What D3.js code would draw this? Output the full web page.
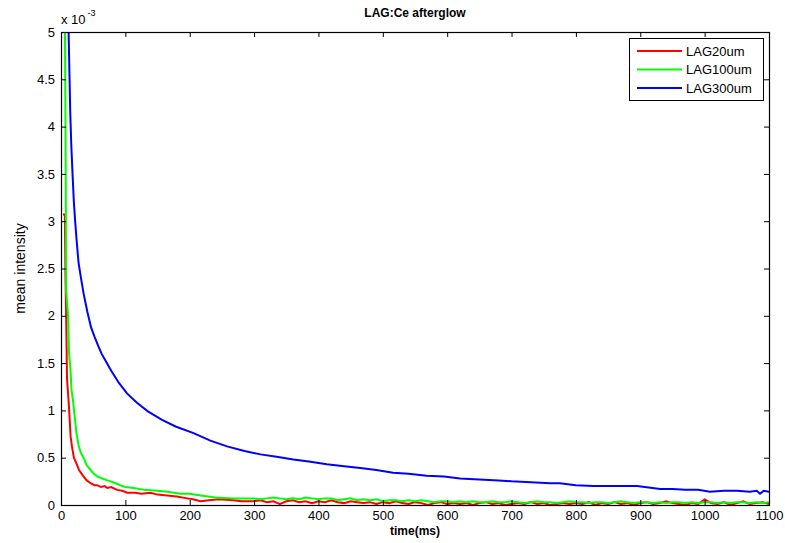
<!DOCTYPE html>
<html>
<head>
<meta charset="utf-8">
<script src="https://cdn.jsdelivr.net/npm/d3@7"></script>
<style>
  body { margin: 0; background: #fff; }
  svg { display: block; font-family: "Liberation Sans", Arial, sans-serif; }
</style>
</head>
<body>
<div id="root"></div>
<script>
// values in units of 1e-3, time in ms
const seriesNames = ["LAG20um", "LAG100um", "LAG300um"];
const seriesColors = ["#ff0000", "#00ff00", "#0000ff"];

const xTicks = [0, 100, 200, 300, 400, 500, 600, 700, 800, 900, 1000, 1100];
const yTicks = [0, 0.5, 1, 1.5, 2, 2.5, 3, 3.5, 4, 4.5, 5];

const lag20Head = [
  [3, 3.07], [6, 3.07], [7, 2.4], [8, 2.0], [9.4, 1.33], [12, 1.08], [15, 0.72],
  [17, 0.62], [20, 0.5], [24, 0.44], [28, 0.37], [34, 0.31], [40, 0.26], [46, 0.23],
  [52, 0.21], [56, 0.21], [62, 0.19], [68, 0.2], [72, 0.18], [78, 0.19], [87, 0.16],
  [95, 0.15], [103, 0.13], [115, 0.13], [125, 0.12], [139, 0.13], [150, 0.11],
  [165, 0.1], [180, 0.09], [196, 0.07], [205, 0.06], [217, 0.04], [230, 0.05],
  [245, 0.06], [268, 0.05], [280, 0.04], [290, 0.04]
];
const lag100Head = [
  [3, 6], [6, 5.2], [7, 4.0], [7.5, 3.2], [8, 2.27], [11, 2.0], [12.5, 1.6],
  [14.5, 1.46], [16.5, 1.2], [18.6, 1.11], [21, 0.95], [24, 0.76], [27.6, 0.62],
  [31, 0.55], [35, 0.5], [40, 0.42], [46, 0.37], [51, 0.33], [57, 0.3], [64, 0.28],
  [72, 0.26], [77, 0.25], [85, 0.23], [95, 0.2], [100, 0.19], [113, 0.18],
  [130, 0.16], [150, 0.15], [165, 0.14], [185, 0.12], [200, 0.12], [217, 0.1],
  [240, 0.08], [268, 0.07], [290, 0.07]
];

// tails sampled every 10 ms from 300 to 1100
const tailTimes = d3.range(300, 1101, 10);
const lag20Tail = [
  0.04, 0.05, 0.03, 0.04, 0.01, 0.04, 0.05, 0.03, 0.04, 0.02, 0.04, 0.03, 0.05, 0.03, 0.02, 0.04,
  0.03, 0.02, 0.03, 0.01, 0.03, 0.02, 0.04, 0.02, 0.01, 0.03, 0.02, 0.00, 0.02, 0.03, 0.01,
  0.02, 0.01, 0.02, 0.00, 0.02, 0.03, 0.01, 0.02, 0.00, 0.01, 0.02, 0.01, 0.03, 0.01, 0.02, 0.00, 0.01, 0.02, 0.01, 0.02,
  0.01, 0.03, 0.00, 0.02, 0.01, 0.03, 0.01, 0.02, 0.00, 0.02, 0.03, 0.01, 0.02, 0.04, 0.02,
  0.01, 0.00, 0.02, 0.01, 0.06, 0.02, 0.01, 0.03, 0.00, 0.02, 0.04, 0.01, 0.02, 0.03, 0.01
];
const lag100Tail = [
  0.07, 0.06, 0.07, 0.08, 0.07, 0.06, 0.07, 0.06, 0.08, 0.07, 0.06, 0.07, 0.07, 0.05, 0.06, 0.07,
  0.05, 0.06, 0.05, 0.06, 0.04, 0.05, 0.05, 0.04, 0.05, 0.04, 0.05, 0.04, 0.03, 0.04, 0.04,
  0.03, 0.04, 0.03, 0.04, 0.03, 0.03, 0.04, 0.03, 0.03, 0.04, 0.03, 0.02, 0.03, 0.04, 0.03, 0.03, 0.02, 0.03, 0.04, 0.03,
  0.03, 0.02, 0.03, 0.03, 0.02, 0.03, 0.04, 0.03, 0.02, 0.03, 0.03, 0.02, 0.03, 0.02, 0.03,
  0.03, 0.02, 0.03, 0.02, 0.03, 0.03, 0.02, 0.03, 0.02, 0.03, 0.03, 0.02, 0.03, 0.02, 0.03
];
const lag300 = [
  [9, 6], [11.8, 5.0], [13, 4.6], [14.4, 4.14], [16, 3.8], [18, 3.49], [20, 3.2],
  [22.2, 2.98], [24.5, 2.78], [27.3, 2.56], [31, 2.4], [35, 2.24], [41, 2.04],
  [46.6, 1.88], [52, 1.78], [58, 1.68], [63, 1.6], [68.8, 1.53], [78, 1.42], [90, 1.29],
  [102.5, 1.18], [118, 1.08], [135, 0.99], [157, 0.9], [178, 0.83], [206, 0.76],
  [232, 0.68], [258, 0.62], [285, 0.57], [310, 0.535], [335, 0.51], [361, 0.48],
  [385, 0.46], [413, 0.43], [440, 0.41], [465, 0.39], [490, 0.37], [516, 0.34],
  [540, 0.33], [568, 0.31], [595, 0.3], [620, 0.28], [650, 0.27], [680, 0.26],
  [700, 0.25], [730, 0.24], [760, 0.23], [775, 0.23], [800, 0.21], [827, 0.2],
  [860, 0.2], [895, 0.2], [931, 0.17], [950, 0.17], [970, 0.16], [990, 0.16],
  [1008, 0.14], [1030, 0.15], [1050, 0.15], [1070, 0.14], [1081, 0.15], [1086, 0.12],
  [1092, 0.15], [1100, 0.14]
];

const seriesData = [
  lag20Head.concat(tailTimes.map((t, i) => [t, lag20Tail[i]])),
  lag100Head.concat(tailTimes.map((t, i) => [t, lag100Tail[i]])),
  lag300
];

const width = 785;
const height = 543;
const plotLeft = 61, plotRight = 769, plotTop = 32, plotBottom = 505;

const svg = d3
  .select("#root")
  .append("svg")
  .attr("width", width)
  .attr("height", height)
  .attr("viewBox", [0, 0, width, height]);

svg.append("rect").attr("width", width).attr("height", height).attr("fill", "#fff");

const x = d3.scaleLinear().domain([0, 1100]).range([plotLeft, plotRight]);
const y = d3.scaleLinear().domain([0, 5]).range([plotBottom, plotTop]);

svg
  .append("clipPath")
  .attr("id", "plot-clip")
  .append("rect")
  .attr("x", plotLeft)
  .attr("y", plotTop)
  .attr("width", plotRight - plotLeft)
  .attr("height", plotBottom - plotTop);

// curves
const line = d3.line().x((d) => x(d[0])).y((d) => y(d[1]));

svg
  .append("g")
  .attr("clip-path", "url(#plot-clip)")
  .selectAll("path")
  .data(seriesData)
  .join("path")
  .attr("fill", "none")
  .attr("stroke", (d, i) => seriesColors[i])
  .attr("stroke-width", 2)
  .attr("stroke-linejoin", "miter")
  .attr("d", line);

// axes, ticks pointing inward on all four sides
function styleAxis(g) {
  g.select(".domain").remove();
  g.selectAll(".tick line").attr("stroke", "#000");
  g.selectAll(".tick text")
    .attr("fill", "#000")
    .attr("font-size", 13)
    .attr("font-family", "Liberation Sans, Arial, sans-serif");
}

svg
  .append("g")
  .attr("transform", `translate(0,${plotBottom})`)
  .call(d3.axisBottom(x).tickValues(xTicks).tickSize(-5).tickPadding(6).tickFormat(d3.format("d")))
  .call(styleAxis);

svg
  .append("g")
  .attr("transform", `translate(0,${plotTop})`)
  .call(d3.axisTop(x).tickValues(xTicks).tickSize(-5).tickFormat(""))
  .call(styleAxis);

svg
  .append("g")
  .attr("transform", `translate(${plotLeft},0)`)
  .call(d3.axisLeft(y).tickValues(yTicks).tickSize(-5).tickPadding(6).tickFormat((d) => String(d)))
  .call(styleAxis);

svg
  .append("g")
  .attr("transform", `translate(${plotRight},0)`)
  .call(d3.axisRight(y).tickValues(yTicks).tickSize(-5).tickFormat(""))
  .call(styleAxis);

// box
svg
  .append("rect")
  .attr("x", plotLeft + 0.5)
  .attr("y", plotTop + 0.5)
  .attr("width", plotRight - plotLeft)
  .attr("height", plotBottom - plotTop)
  .attr("fill", "none")
  .attr("stroke", "#000")
  .attr("stroke-width", 1.2);

// exponent label
const expo = svg
  .append("text")
  .attr("x", plotLeft)
  .attr("y", 24)
  .attr("font-size", 13)
  .attr("fill", "#000")
  .text("x 10");
expo
  .append("tspan")
  .attr("font-size", 9)
  .attr("dx", 2)
  .attr("dy", -8)
  .text("-3");

// title and axis labels
svg
  .append("text")
  .attr("x", (plotLeft + plotRight) / 2)
  .attr("y", 17)
  .attr("text-anchor", "middle")
  .attr("font-size", 12)
  .attr("font-weight", "bold")
  .text("LAG:Ce afterglow");

svg
  .append("text")
  .attr("x", (plotLeft + plotRight) / 2)
  .attr("y", 535)
  .attr("text-anchor", "middle")
  .attr("font-size", 12)
  .attr("font-weight", "bold")
  .text("time(ms)");

svg
  .append("text")
  .attr("transform", `translate(25,${(plotTop + plotBottom) / 2}) rotate(-90)`)
  .attr("text-anchor", "middle")
  .attr("font-size", 14)
  .text("mean intensity");

// legend
const legend = svg.append("g").attr("transform", "translate(629,38)");
legend
  .append("rect")
  .attr("x", 0.5)
  .attr("y", 0.5)
  .attr("width", 134)
  .attr("height", 62)
  .attr("fill", "#fff")
  .attr("stroke", "#000");

const item = legend
  .selectAll("g")
  .data(seriesNames)
  .join("g")
  .attr("transform", (d, i) => `translate(0,${13 + i * 18.5})`);

item
  .append("line")
  .attr("x1", 8)
  .attr("x2", 53)
  .attr("stroke", (d, i) => seriesColors[i])
  .attr("stroke-width", 2);

item
  .append("text")
  .attr("x", 57)
  .attr("dy", "0.35em")
  .attr("font-size", 13)
  .text((d) => d);
</script>
</body>
</html>
